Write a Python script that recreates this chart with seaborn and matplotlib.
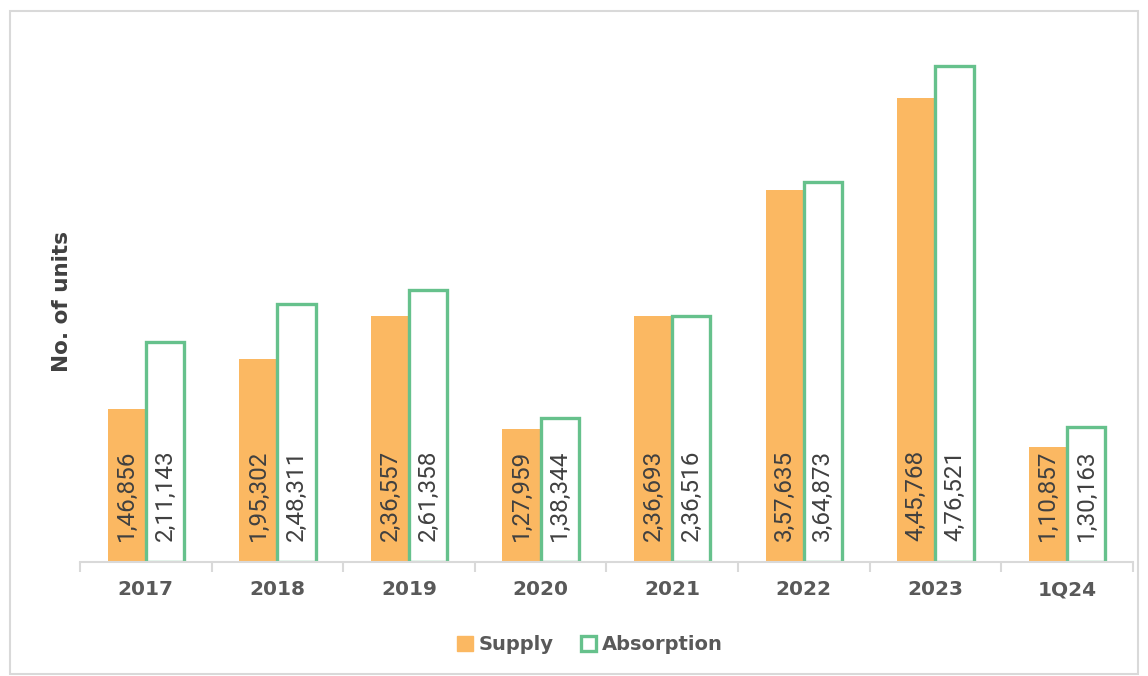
import numpy as np
import pandas as pd
import matplotlib
matplotlib.use("Agg")
import matplotlib.pyplot as plt
import seaborn as sns
from matplotlib.patches import Patch, Rectangle

years = ["2017", "2018", "2019", "2020", "2021", "2022", "2023", "1Q24"]
supply = [146856, 195302, 236557, 127959, 236693, 357635, 445768, 110857]
absorption = [211143, 248311, 261358, 138344, 236516, 364873, 476521, 130163]

ORANGE = "#FBB862"
GREEN = "#66C18C"
TEXT = "#404040"
LABEL = "#595959"
GRID = "#D9D9D9"


def indian_fmt(n):
    s = str(int(n))
    if len(s) <= 3:
        return s
    last3 = s[-3:]
    rest = s[:-3]
    parts = []
    while len(rest) > 2:
        parts.insert(0, rest[-2:])
        rest = rest[:-2]
    if rest:
        parts.insert(0, rest)
    return ",".join(parts) + "," + last3


df = pd.DataFrame({
    "year": years * 2,
    "units": supply + absorption,
    "series": ["Supply"] * len(years) + ["Absorption"] * len(years),
})

sns.set_theme(style="white")
plt.rcParams["font.family"] = ["DejaVu Sans"]

fig = plt.figure(figsize=(11.48, 6.76), dpi=100)
ax = fig.add_axes([0.0697, 0.1686, 0.917, 0.77])

sns.barplot(data=df, x="year", y="units", hue="series", order=years,
            hue_order=["Supply", "Absorption"],
            palette={"Supply": ORANGE, "Absorption": "white"},
            width=0.58, gap=0, saturation=1, legend=False, ax=ax)

# style absorption bars: white fill, green outline
for bar in ax.containers[1]:
    bar.set_facecolor("white")
    bar.set_edgecolor(GREEN)
    bar.set_linewidth(2.4)
for bar in ax.containers[0]:
    bar.set_edgecolor("none")

# value labels inside bars, rotated
for cont, vals in zip(ax.containers, [supply, absorption]):
    for bar, v in zip(cont, vals):
        cx = bar.get_x() + bar.get_width() / 2
        ax.annotate(indian_fmt(v), xy=(cx, 0), xytext=(0, 15),
                    textcoords="offset points", rotation=90,
                    ha="center", va="bottom", fontsize=17.5,
                    family="Roboto", fontweight="normal", color=TEXT)

ax.set_ylim(0, 500000)
ax.set_xlim(-0.5, len(years) - 0.5)
ax.set_yticks([])
ax.set_xlabel("")
ax.set_ylabel("No. of units", fontsize=15.5, fontweight="bold", color=TEXT, labelpad=6)

for side in ["top", "right", "left"]:
    ax.spines[side].set_visible(False)
ax.spines["bottom"].set_color(GRID)
ax.spines["bottom"].set_linewidth(1.5)

ax.set_xticks(range(len(years)))
ax.set_xticklabels(years, fontsize=14.5, fontweight="bold", color=LABEL)
ax.tick_params(axis="x", which="major", length=0, pad=24)
for lbl in ax.get_xticklabels():
    lbl.set_verticalalignment("baseline")
ax.set_xticks(np.arange(-0.5, len(years)), minor=True)
ax.tick_params(axis="x", which="minor", length=7, width=1.5, color=GRID, bottom=True)

handles = [Patch(facecolor=ORANGE, edgecolor=ORANGE, label="Supply"),
           Patch(facecolor="white", edgecolor=GREEN, linewidth=2.4, label="Absorption")]
fig.legend(handles=handles, loc="center", bbox_to_anchor=(0.514, 0.046), ncol=2,
           frameon=False, handlelength=0.8, handleheight=0.8, handletextpad=0.3,
           columnspacing=1.4, prop={"size": 14, "weight": "bold"}, labelcolor=LABEL)

# outer chart border
fig.patches.append(Rectangle((10 / 1148, 2 / 676), 1128 / 1148, 663 / 676,
                             transform=fig.transFigure, fill=False,
                             edgecolor=GRID, linewidth=1.5))

fig.savefig("out.png", dpi=100)
